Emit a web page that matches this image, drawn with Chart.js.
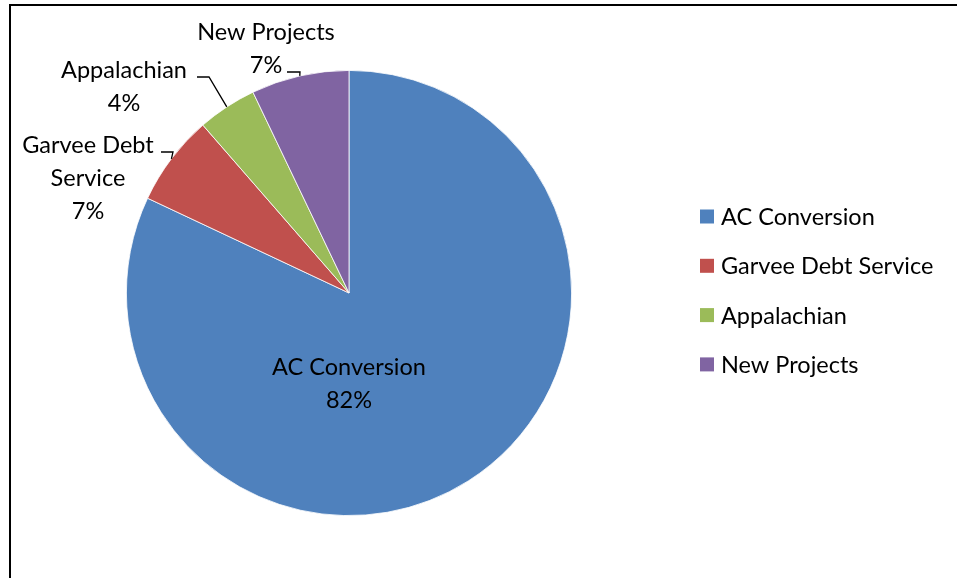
<!DOCTYPE html>
<html>
<head>
<meta charset="utf-8">
<script src="https://cdn.jsdelivr.net/npm/chart.js@4"></script>
<style>
html,body{margin:0;padding:0;background:#fff;}
#wrap{position:relative;width:957px;height:578px;}
</style>
</head>
<body>
<div id="wrap"><canvas id="c" width="957" height="578"></canvas></div>
<script>
const categories = ['AC Conversion', 'Garvee Debt Service', 'Appalachian', 'New Projects'];
const values = [82.0, 6.6, 4.3, 7.1];
const colors = ['#4F81BD', '#C0504D', '#9BBB59', '#8064A2'];
// wrapped label lines for the data labels (percent appended from data)
const labelLines = [['AC Conversion'], ['Garvee Debt', 'Service'], ['Appalachian'], ['New Projects']];

const FONT = '23.5px Lato, Carlito, "Open Sans", sans-serif';
const LINE_H = 33;

// layout for data labels: text center x, first line y, leader elbow and end
const labelLayout = [
  {inside: true, dx: 0, dy: 74},
  {x: 88, y: 145, elbow: [173, 152], end: [161, 152]},
  {x: 124, y: 70, elbow: [209, 77], end: [197, 77]},
  {x: 266, y: 32, elbow: [300, 72], end: [287, 72]}
];

const total = values.reduce((a, b) => a + b, 0);

const decorPlugin = {
  id: 'decor',
  afterDraw(chart) {
    const ctx = chart.ctx;
    const meta = chart.getDatasetMeta(0);
    ctx.save();
    // frame
    ctx.strokeStyle = '#000';
    ctx.lineWidth = 2;
    ctx.beginPath();
    ctx.moveTo(10, 578);
    ctx.lineTo(10, 5);
    ctx.lineTo(957, 5);
    ctx.stroke();

    ctx.font = FONT;
    ctx.fillStyle = '#000';
    ctx.textAlign = 'center';
    ctx.textBaseline = 'middle';
    meta.data.forEach((arc, i) => {
      const p = arc.getProps(['x', 'y', 'startAngle', 'endAngle', 'outerRadius'], true);
      const pct = Math.round(values[i] / total * 100) + '%';
      const lines = labelLines[i].concat([pct]);
      const L = labelLayout[i];
      if (L.inside) {
        lines.forEach((t, k) => ctx.fillText(t, p.x + L.dx, p.y + L.dy + k * LINE_H));
      } else {
        const mid = (p.startAngle + p.endAngle) / 2;
        const ax = p.x + Math.cos(mid) * p.outerRadius;
        const ay = p.y + Math.sin(mid) * p.outerRadius;
        ctx.strokeStyle = '#000';
        ctx.lineWidth = 1.3;
        ctx.beginPath();
        ctx.moveTo(ax, ay);
        ctx.lineTo(L.elbow[0], L.elbow[1]);
        ctx.lineTo(L.end[0], L.end[1]);
        ctx.stroke();
        lines.forEach((t, k) => ctx.fillText(t, L.x, L.y + k * LINE_H));
      }
    });

    // legend
    ctx.textAlign = 'left';
    categories.forEach((c, i) => {
      const cy = 216.5 + i * 49.3;
      ctx.fillStyle = colors[i];
      ctx.fillRect(700, cy - 7, 14, 14);
      ctx.fillStyle = '#000';
      ctx.fillText(c, 721, cy + 1);
    });
    ctx.restore();
  }
};

new Chart(document.getElementById('c'), {
  type: 'pie',
  data: {
    labels: categories,
    datasets: [{
      data: values,
      backgroundColor: colors,
      borderColor: '#ffffff',
      borderWidth: 0.8
    }]
  },
  options: {
    responsive: false,
    animation: false,
    rotation: 0,
    layout: {padding: {left: 126, right: 385, top: 70, bottom: 62}},
    plugins: {legend: {display: false}, tooltip: {enabled: false}}
  },
  plugins: [decorPlugin]
});
</script>
</body>
</html>
